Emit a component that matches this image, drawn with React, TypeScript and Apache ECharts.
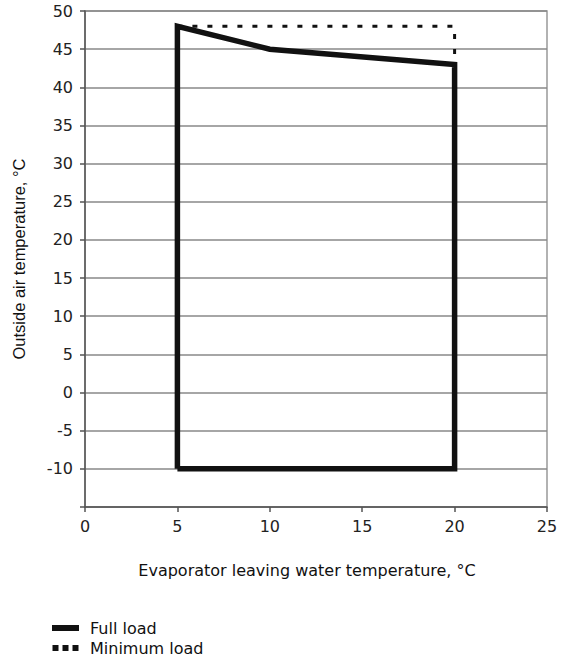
import React, { useEffect, useRef } from "react";
import * as echarts from "echarts";

const fullLoad: [number, number][] = [
  [5, -10],
  [5, 48],
  [10, 45],
  [20, 43],
  [20, -10],
  [5, -10],
];
const minimumLoad: [number, number][] = [
  [5, 48],
  [20, 48],
  [20, 43],
];
const seriesNames = ["Full load", "Minimum load"];
const xTitle = "Evaporator leaving water temperature, °C";
const yTitle = "Outside air temperature, °C";

export default function App() {
  const ref = useRef<HTMLDivElement>(null);
  useEffect(() => {
    document.body.style.margin = "0";
    const chart = echarts.init(ref.current!, null, { renderer: "svg" });
    const font = "DejaVu Sans, sans-serif";
    chart.setOption({
      animation: false,
      backgroundColor: "#fff",
      grid: {
        left: 85,
        right: 22,
        top: 11,
        bottom: 157,
        show: true,
        borderColor: "#999",
        borderWidth: 1.5,
      },
      xAxis: {
        type: "value",
        min: 0,
        max: 25,
        interval: 5,
        name: xTitle,
        nameLocation: "middle",
        nameGap: 55,
        nameTextStyle: { fontFamily: font, fontSize: 16, color: "#111", padding: [0, 18, 0, 0] },
        axisLine: { show: true, onZero: false, lineStyle: { color: "#555", width: 1.5 } },
        axisTick: { show: true, length: 5, lineStyle: { color: "#555", width: 1.5 } },
        axisLabel: { fontFamily: font, fontSize: 16, color: "#222", margin: 11 },
        splitLine: { show: false },
      },
      yAxis: {
        type: "value",
        min: -15,
        max: 50,
        interval: 5,
        name: yTitle,
        nameLocation: "middle",
        nameGap: 58,
        nameTextStyle: { fontFamily: "Liberation Sans, Arial, sans-serif", fontSize: 16.5, color: "#111" },
        axisLine: { show: true, onZero: false, lineStyle: { color: "#555", width: 1.5 } },
        axisTick: { show: true, length: 5, lineStyle: { color: "#555", width: 1.5 } },
        axisLabel: {
          fontFamily: font,
          fontSize: 16,
          color: "#222",
          margin: 12,
          formatter: (v: number) => (v === -15 ? "" : String(v)),
        },
        splitLine: { show: true, lineStyle: { color: "#888", width: 1.5 } },
      },
      legend: {
        orient: "vertical",
        left: 52,
        top: 620,
        padding: 0,
        itemWidth: 27,
        itemHeight: 6,
        itemGap: 4,
        textStyle: { fontFamily: font, fontSize: 16, color: "#111", padding: [0, 0, 0, 6] },
        itemStyle: { borderWidth: 0 },
        data: [
          { name: seriesNames[0], icon: "rect" },
          {
            name: seriesNames[1],
            icon: "path://M0,0h6v6h-6zM10,0h6v6h-6zM20,0h6v6h-6z",
          },
        ],
      },
      series: [
        {
          name: seriesNames[1],
          type: "line",
          data: minimumLoad,
          showSymbol: false,
          symbol: "none",
          lineStyle: { color: "#111", width: 3, type: [5, 10] },
          itemStyle: { color: "#111" },
        },
        {
          name: seriesNames[0],
          type: "line",
          data: fullLoad,
          showSymbol: false,
          symbol: "none",
          lineStyle: { color: "#111", width: 5.5, join: "miter" },
          itemStyle: { color: "#111" },
        },
      ],
    });
    return () => chart.dispose();
  }, []);
  return <div ref={ref} style={{ width: 569, height: 664 }} />;
}
